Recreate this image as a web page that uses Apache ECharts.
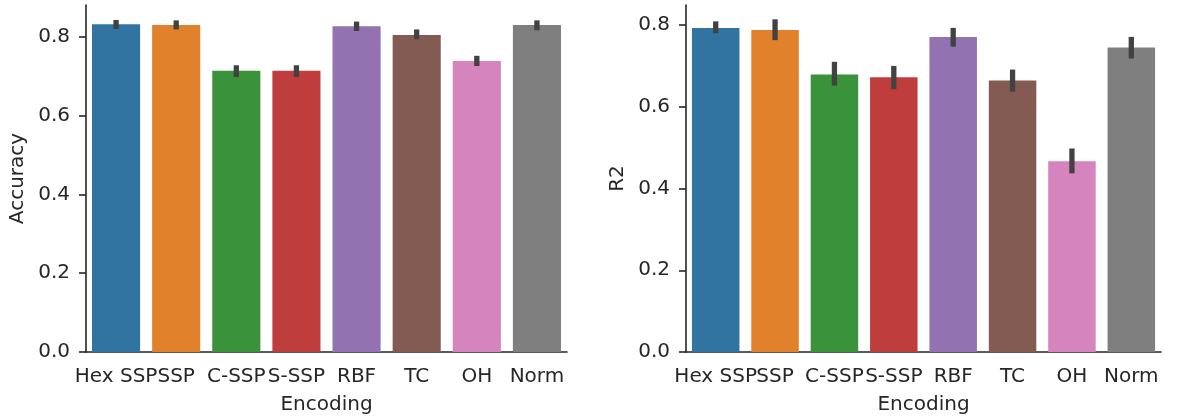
<!DOCTYPE html>
<html>
<head>
<meta charset="utf-8">
<title>Encoding comparison</title>
<script src="https://cdn.jsdelivr.net/npm/echarts@6/dist/echarts.min.js"></script>
<style>
  html, body { margin: 0; padding: 0; background: #fff; }
  #chart { width: 1187px; height: 420px; }
</style>
</head>
<body>
<div id="chart"></div>
<script>
// Encodings compared on both panels
const categories = ['Hex SSP', 'SSP', 'C-SSP', 'S-SSP', 'RBF', 'TC', 'OH', 'Norm'];

// Left panel: classification accuracy (mean and confidence interval)
const accuracy     = [0.832, 0.830, 0.714, 0.714, 0.827, 0.805, 0.739, 0.830];
const accuracyLow  = [0.820, 0.819, 0.698, 0.698, 0.815, 0.794, 0.726, 0.817];
const accuracyHigh = [0.843, 0.842, 0.728, 0.728, 0.839, 0.819, 0.752, 0.842];

// Right panel: regression R2 (mean and confidence interval)
const r2     = [0.793, 0.788, 0.679, 0.672, 0.771, 0.664, 0.467, 0.745];
const r2Low  = [0.780, 0.763, 0.652, 0.643, 0.747, 0.637, 0.437, 0.718];
const r2High = [0.809, 0.814, 0.710, 0.700, 0.793, 0.691, 0.498, 0.771];

// Y-axis tick values
const yTicks = [0, 0.2, 0.4, 0.6, 0.8];

const palette = ['#3274a1', '#e1812c', '#3a923a', '#c03d3e', '#9372b2', '#845b53', '#d684bd', '#7f7f7f'];
const ink = '#262626';
const font = 'DejaVu Sans';
const fs = 20;

function xAxisFor(gridIndex) {
  return {
    type: 'category',
    gridIndex,
    data: categories,
    name: 'Encoding',
    nameLocation: 'middle',
    nameGap: 43,
    nameTextStyle: { color: ink, fontFamily: font, fontSize: fs },
    axisLine: { lineStyle: { color: ink, width: 1.6 } },
    axisTick: { alignWithLabel: true, length: 7, lineStyle: { color: ink, width: 1.6 } },
    axisLabel: { interval: 0, color: ink, fontFamily: font, fontSize: fs, margin: 15, hideOverlap: false },
    splitLine: { show: false }
  };
}

function yAxisFor(gridIndex, name, max) {
  return {
    type: 'value',
    gridIndex,
    min: 0,
    max,
    name,
    nameLocation: 'middle',
    nameGap: 58,
    nameTextStyle: { color: ink, fontFamily: font, fontSize: fs },
    axisLine: { show: true, lineStyle: { color: ink, width: 1.6 } },
    axisTick: { show: true, length: 7, customValues: yTicks, lineStyle: { color: ink, width: 1.6 } },
    axisLabel: {
      color: ink, fontFamily: font, fontSize: fs, margin: 16,
      customValues: yTicks,
      formatter: v => v.toFixed(1)
    },
    splitLine: { show: false }
  };
}

function barSeries(idx, values) {
  return {
    type: 'bar',
    xAxisIndex: idx,
    yAxisIndex: idx,
    data: values,
    barCategoryGap: '20%',
    itemStyle: { color: p => palette[p.dataIndex] },
    emphasis: { disabled: true },
    silent: true
  };
}

function errorSeries(idx, low, high) {
  return {
    type: 'custom',
    xAxisIndex: idx,
    yAxisIndex: idx,
    silent: true,
    z: 5,
    data: categories.map((c, i) => [i, low[i], high[i]]),
    encode: { x: 0, y: [1, 2] },
    renderItem: (params, api) => {
      const a = api.coord([api.value(0), api.value(1)]);
      const b = api.coord([api.value(0), api.value(2)]);
      return {
        type: 'line',
        shape: { x1: a[0], y1: a[1], x2: b[0], y2: b[1] },
        style: { stroke: '#424242', lineWidth: 5.3, lineCap: 'butt' }
      };
    }
  };
}

const chart = echarts.init(document.getElementById('chart'), null, { renderer: 'canvas' });
chart.setOption({
  animation: false,
  backgroundColor: '#fff',
  grid: [
    { left: 86, right: 620, top: 5, bottom: 66 },
    { left: 686, right: 26, top: 5, bottom: 66 }
  ],
  xAxis: [xAxisFor(0), xAxisFor(1)],
  yAxis: [yAxisFor(0, 'Accuracy', 0.881), yAxisFor(1, 'R2', 0.849)],
  series: [
    barSeries(0, accuracy),
    errorSeries(0, accuracyLow, accuracyHigh),
    barSeries(1, r2),
    errorSeries(1, r2Low, r2High)
  ]
});
</script>
</body>
</html>
